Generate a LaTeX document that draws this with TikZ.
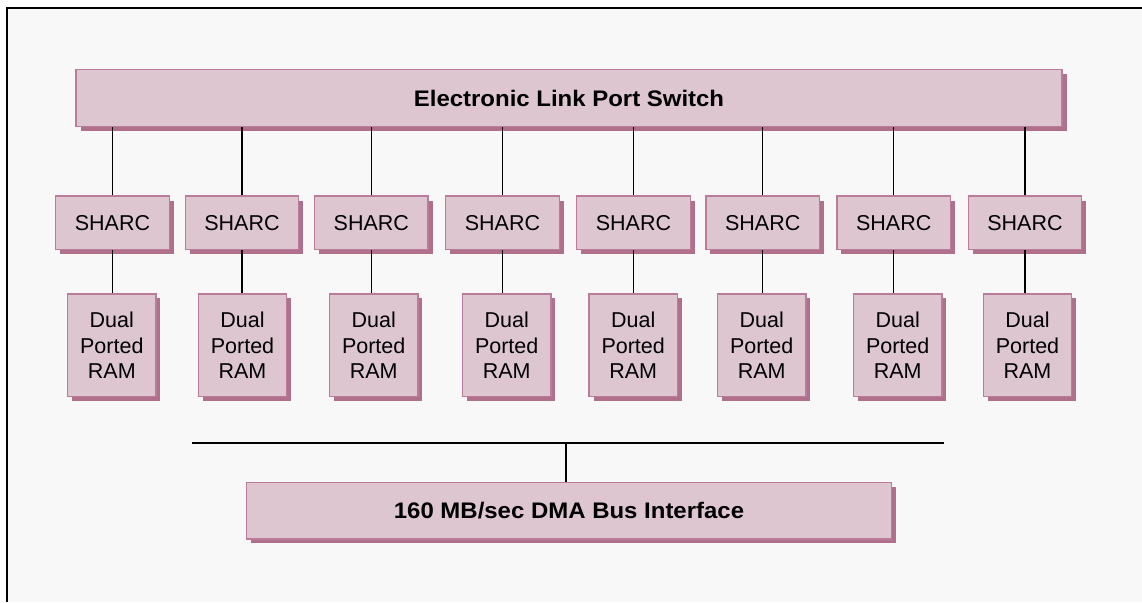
\documentclass[tikz,border=0pt]{standalone}
\usepackage{fontspec}
\setmainfont{Liberation Sans}
\newfontfamily\widebold[FakeStretch=1.065]{Liberation Sans Bold}
\usetikzlibrary{shadows}
\definecolor{boxfill}{HTML}{DDC6D0}
\definecolor{boxline}{HTML}{BA7C9A}
\definecolor{shadowcol}{HTML}{B0708C}
\definecolor{bgcol}{HTML}{F8F8F8}
\tikzset{
  pinkbox/.style={draw=boxline, line width=1.3pt, fill=boxfill, inner sep=0pt,
    drop shadow={shadow xshift=4.5pt, shadow yshift=-4.5pt, fill=shadowcol, opacity=1},
    font=\fontsize{21.5}{25.8}\selectfont},
  boldbox/.style={pinkbox, font=\fontsize{22.5}{27}\selectfont\widebold},
  wire/.style={draw=black, line width=1.5pt}
}
\begin{document}
\begin{tikzpicture}[x=1pt,y=-1pt]
\useasboundingbox (0,0) rectangle (1142,602);
\fill[white] (0,0) rectangle (1142,602);
\fill[bgcol] (7,8) rectangle (1142,602);
\draw[line width=2.2pt, black] (7,602) -- (7,8) -- (1142,8);

\node[boldbox, minimum width=986pt, minimum height=57pt] (top) at (569,98) {Electronic Link Port Switch};

\foreach \i/\sx/\rx in {1/112.5/111.8, 2/242/242.5, 3/371.3/373.7, 4/502.5/506.7, 5/633.5/633.2, 6/762.7/761.7, 7/893.7/897.7, 8/1025/1027.5} {
  \node[pinkbox, minimum width=113.5pt, minimum height=53.3pt] (s\i) at (\sx,222.7) {SHARC};
  \node[pinkbox, minimum width=88.3pt, minimum height=102.7pt, align=center] (r\i) at (\rx,345.3) {Dual\\Ported\\RAM};
  \draw[wire] (s\i.north) -- (s\i.north |- top.south);
  \draw[wire] (s\i.south) -- (s\i.south |- r\i.north);
}

\node[boldbox, minimum width=645.4pt, minimum height=56.3pt] (dma) at (569,510.8) {160 MB/sec DMA Bus Interface};

\coordinate (busL) at (191.7,443);
\coordinate (busR) at (944,443);
\coordinate (busT) at (566,443);
\draw[wire] (busL) -- (busR);
\draw[wire] (busT) -- (busT |- dma.north);
\end{tikzpicture}
\end{document}
